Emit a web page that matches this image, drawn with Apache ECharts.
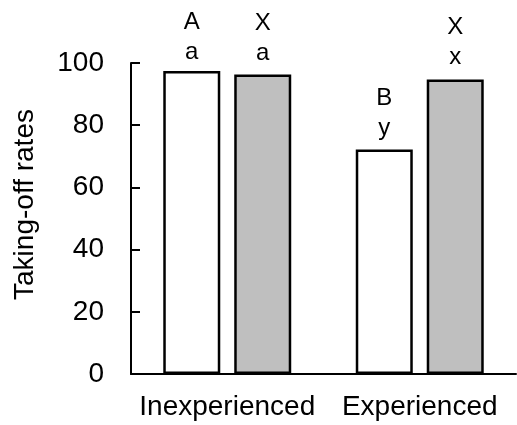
<!DOCTYPE html>
<html>
<head>
<meta charset="utf-8">
<script src="https://cdn.jsdelivr.net/npm/echarts@6/dist/echarts.min.js"></script>
<style>
html,body{margin:0;padding:0;background:#fff;}
#chart{width:517px;height:425px;}
</style>
</head>
<body>
<div id="chart"></div>
<script>
var categories = ['Inexperienced', 'Experienced'];
var whiteValues = [97.4, 72.2];
var greyValues = [96.3, 94.7];
var whiteUpper = ['A', 'B'];
var whiteLower = ['a', 'y'];
var greyUpper = ['X', 'X'];
var greyLower = ['a', 'x'];
var yTicks = [0, 20, 40, 60, 80, 100];

var FONT = 'Arial, "Liberation Sans", sans-serif';
var chart = echarts.init(document.getElementById('chart'));

function buildData(vals, up, low, d) {
  return vals.map(function (v, i) {
    return { value: v, label: { distance: d[i], formatter: up[i] + '\n' + low[i] } };
  });
}

var whiteData = buildData(whiteValues, whiteUpper, whiteLower, [4, 6]);
var greyData = buildData(greyValues, greyUpper, greyLower, [6, 7]);

var labelStyle = {
  show: true,
  position: 'top',
  fontFamily: FONT,
  fontSize: 24,
  lineHeight: 30,
  color: '#000'
};

chart.setOption({
  animation: false,
  backgroundColor: '#fff',
  grid: { left: 131, right: 1, top: 63, bottom: 51, containLabel: false },
  xAxis: {
    type: 'category',
    data: categories,
    axisLine: { lineStyle: { color: '#000', width: 2 } },
    axisTick: { show: false },
    axisLabel: { color: '#000', fontFamily: FONT, fontSize: 28, margin: 19, interval: 0 }
  },
  yAxis: {
    type: 'value',
    min: 0,
    max: 100,
    interval: 20,
    name: 'Taking-off rates',
    nameLocation: 'middle',
    nameGap: 92,
    nameTextStyle: { color: '#000', fontFamily: FONT, fontSize: 28, padding: [0, 0, 0, 28] },
    splitLine: { show: false },
    axisLine: { show: true, lineStyle: { color: '#000', width: 2 } },
    axisTick: { show: true, inside: true, length: 9, lineStyle: { color: '#000', width: 2 } },
    axisLabel: {
      color: '#000', fontFamily: FONT, fontSize: 28, margin: 27,
      formatter: function (v) { return yTicks.indexOf(v) >= 0 ? String(v) : ''; }
    }
  },
  series: [
    {
      type: 'bar',
      data: whiteData,
      barWidth: 57,
      barGap: '24.5%',
      itemStyle: { color: '#ffffff', borderColor: '#000', borderWidth: 2.5 },
      label: labelStyle
    },
    {
      type: 'bar',
      data: greyData,
      barWidth: 57,
      barGap: '24.5%',
      itemStyle: { color: '#bfbfbf', borderColor: '#000', borderWidth: 2.5 },
      label: labelStyle
    }
  ]
});
</script>
</body>
</html>
